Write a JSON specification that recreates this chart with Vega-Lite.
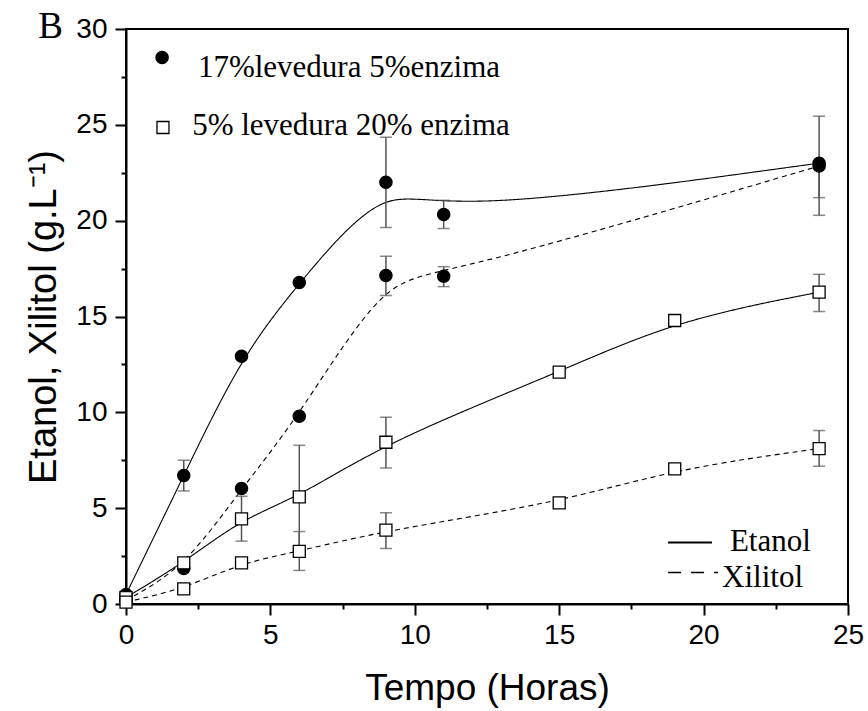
{
  "$schema": "https://vega.github.io/schema/vega-lite/v6.json",
  "width": 722,
  "height": 575,
  "autosize": "none",
  "padding": {"left": 126, "top": 29, "right": 20, "bottom": 107},
  "background": "white",
  "config": {
    "view": {"stroke": "black", "strokeWidth": 2},
    "axis": {"grid": false, "labelFlush": false, "domainColor": "black", "domainWidth": 2, "tickColor": "black", "tickWidth": 2, "labelColor": "black", "labelFont": "Liberation Sans", "titleFont": "Liberation Sans", "titleColor": "black", "titleFontWeight": "normal"}
  },
  "datasets": {
    "pts": [
      {"g": "circ", "s": "Etanol", "t": 0, "v": 0.5},
      {"g": "circ", "s": "Etanol", "t": 2, "v": 6.7, "lo": 5.9, "hi": 7.5},
      {"g": "circ", "s": "Etanol", "t": 4, "v": 12.93},
      {"g": "circ", "s": "Etanol", "t": 6, "v": 16.77},
      {"g": "circ", "s": "Etanol", "t": 9, "v": 22.0, "lo": 19.64, "hi": 24.35},
      {"g": "circ", "s": "Etanol", "t": 11, "v": 20.32, "lo": 19.59, "hi": 21.06},
      {"g": "circ", "s": "Etanol", "t": 24, "v": 23.0, "lo": 21.2, "hi": 23.0},
      {"g": "circ", "s": "Xilitol", "t": 0, "v": 0.2},
      {"g": "circ", "s": "Xilitol", "t": 2, "v": 1.85},
      {"g": "circ", "s": "Xilitol", "t": 4, "v": 6.03},
      {"g": "circ", "s": "Xilitol", "t": 6, "v": 9.8},
      {"g": "circ", "s": "Xilitol", "t": 9, "v": 17.14, "lo": 16.09, "hi": 18.14},
      {"g": "circ", "s": "Xilitol", "t": 11, "v": 17.1, "lo": 16.56, "hi": 17.6},
      {"g": "circ", "s": "Xilitol", "t": 24, "v": 22.85, "lo": 20.28, "hi": 25.45},
      {"g": "sq", "s": "Etanol", "t": 0, "v": 0.34},
      {"g": "sq", "s": "Etanol", "t": 2, "v": 2.15, "lo": 1.95, "hi": 2.35},
      {"g": "sq", "s": "Etanol", "t": 4, "v": 4.44, "lo": 3.28, "hi": 5.62},
      {"g": "sq", "s": "Etanol", "t": 6, "v": 5.59, "lo": 2.9, "hi": 8.28},
      {"g": "sq", "s": "Etanol", "t": 9, "v": 8.44, "lo": 7.1, "hi": 9.75},
      {"g": "sq", "s": "Etanol", "t": 15, "v": 12.1},
      {"g": "sq", "s": "Etanol", "t": 19, "v": 14.79},
      {"g": "sq", "s": "Etanol", "t": 24, "v": 16.27, "lo": 15.26, "hi": 17.2},
      {"g": "sq", "s": "Xilitol", "t": 0, "v": 0.1},
      {"g": "sq", "s": "Xilitol", "t": 2, "v": 0.79, "lo": 0.6, "hi": 0.95},
      {"g": "sq", "s": "Xilitol", "t": 4, "v": 2.15, "lo": 2.0, "hi": 2.3},
      {"g": "sq", "s": "Xilitol", "t": 6, "v": 2.75, "lo": 1.75, "hi": 3.78},
      {"g": "sq", "s": "Xilitol", "t": 9, "v": 3.85, "lo": 2.9, "hi": 4.76},
      {"g": "sq", "s": "Xilitol", "t": 15, "v": 5.28},
      {"g": "sq", "s": "Xilitol", "t": 19, "v": 7.05},
      {"g": "sq", "s": "Xilitol", "t": 24, "v": 8.11, "lo": 7.19, "hi": 9.05}
    ],
    "legsym": [
      {"x": 1.25, "y": 28.51, "g": "circ"},
      {"x": 1.28, "y": 24.86, "g": "sq"}
    ],
    "legtxt": [
      {"x": 2.49, "y": 27.48, "label": "17%levedura 5%enzima"},
      {"x": 2.29, "y": 24.49, "label": "5% levedura 20% enzima"},
      {"x": 20.91, "y": 2.74, "label": "Etanol"},
      {"x": 20.64, "y": 0.91, "label": "Xilitol"}
    ],
    "legline1": [
      {"x": 18.77, "y": 3.21},
      {"x": 20.29, "y": 3.21}
    ],
    "legline2": [
      {"x": 18.77, "y": 1.64},
      {"x": 20.5, "y": 1.64}
    ],
    "panel": [
      {"x": -2.61, "y": 29.55, "label": "B"}
    ]
  },
  "layer": [
    {
      "data": {"name": "pts"},
      "mark": {"type": "line", "interpolate": "basis", "strokeWidth": 1.1, "color": "black"},
      "encoding": {
        "x": {"field": "t", "type": "quantitative", "scale": {"domain": [0, 25], "nice": false},
              "axis": {"values": [0, 5, 10, 15, 20, 25], "tickSize": 11, "labelFontSize": 28, "labelPadding": 6, "title": "Tempo (Horas)", "titleFontSize": 37, "titlePadding": 21, "orient": "bottom"}},
        "y": {"field": "v", "type": "quantitative", "scale": {"domain": [0, 30], "nice": false},
              "axis": {"values": [0, 5, 10, 15, 20, 25, 30], "tickSize": 11, "labelFontSize": 28, "labelPadding": 8, "title": "Etanol, Xilitol (g.L⁻¹)", "titleFontSize": 38, "titlePadding": 12, "orient": "left"}},
        "detail": {"field": "g"},
        "strokeDash": {"field": "s", "type": "nominal", "scale": {"domain": ["Etanol", "Xilitol"], "range": [[1, 0], [5, 4]]}, "legend": null},
        "order": {"field": "t", "type": "quantitative"}
      }
    },
    {
      "data": {"name": "pts"},
      "mark": {"type": "rule", "color": "#555", "strokeWidth": 1.5},
      "encoding": {
        "x": {"field": "t", "type": "quantitative", "axis": {"values": [2.5, 7.5, 12.5, 17.5, 22.5], "labels": false, "tickSize": 5, "domain": false, "title": null, "orient": "bottom"}},
        "y": {"field": "lo", "type": "quantitative", "axis": {"values": [2.5, 7.5, 12.5, 17.5, 22.5, 27.5], "labels": false, "tickSize": 5, "domain": false, "title": null, "orient": "left"}},
        "y2": {"field": "hi"}
      }
    },
    {
      "data": {"name": "pts"},
      "mark": {"type": "tick", "orient": "horizontal", "color": "#555", "thickness": 1.5, "size": 12},
      "encoding": {
        "x": {"field": "t", "type": "quantitative", "axis": null},
        "y": {"field": "lo", "type": "quantitative", "axis": null}
      }
    },
    {
      "data": {"name": "pts"},
      "mark": {"type": "tick", "orient": "horizontal", "color": "#555", "thickness": 1.5, "size": 12},
      "encoding": {
        "x": {"field": "t", "type": "quantitative", "axis": null},
        "y": {"field": "hi", "type": "quantitative", "axis": null}
      }
    },
    {
      "data": {"name": "pts"},
      "mark": {"type": "point", "filled": false, "stroke": "black", "strokeWidth": 1.3, "opacity": 1},
      "encoding": {
        "x": {"field": "t", "type": "quantitative", "axis": null},
        "y": {"field": "v", "type": "quantitative", "axis": null},
        "shape": {"field": "g", "type": "nominal", "scale": {"domain": ["circ", "sq"], "range": ["circle", "square"]}, "legend": null},
        "fill": {"field": "g", "type": "nominal", "scale": {"domain": ["circ", "sq"], "range": ["black", "white"]}, "legend": null},
        "size": {"field": "g", "type": "nominal", "scale": {"domain": ["circ", "sq"], "range": [150, 144]}, "legend": null}
      }
    },
    {
      "data": {"name": "legsym"},
      "mark": {"type": "point", "filled": false, "stroke": "black", "strokeWidth": 1.3, "opacity": 1, "clip": false},
      "encoding": {
        "x": {"field": "x", "type": "quantitative", "axis": null},
        "y": {"field": "y", "type": "quantitative", "axis": null},
        "shape": {"field": "g", "type": "nominal", "scale": {"domain": ["circ", "sq"], "range": ["circle", "square"]}, "legend": null},
        "fill": {"field": "g", "type": "nominal", "scale": {"domain": ["circ", "sq"], "range": ["black", "white"]}, "legend": null},
        "size": {"field": "g", "type": "nominal", "scale": {"domain": ["circ", "sq"], "range": [150, 144]}, "legend": null}
      }
    },
    {
      "data": {"name": "legtxt"},
      "mark": {"type": "text", "align": "left", "baseline": "alphabetic", "font": "Liberation Serif", "fontSize": 31, "color": "black"},
      "encoding": {
        "x": {"field": "x", "type": "quantitative", "axis": null},
        "y": {"field": "y", "type": "quantitative", "axis": null},
        "text": {"field": "label"}
      }
    },
    {
      "data": {"name": "legline1"},
      "mark": {"type": "line", "color": "black", "strokeWidth": 2},
      "encoding": {
        "x": {"field": "x", "type": "quantitative", "axis": null},
        "y": {"field": "y", "type": "quantitative", "axis": null}
      }
    },
    {
      "data": {"name": "legline2"},
      "mark": {"type": "line", "color": "black", "strokeWidth": 1.5, "strokeDash": [13, 10]},
      "encoding": {
        "x": {"field": "x", "type": "quantitative", "axis": null},
        "y": {"field": "y", "type": "quantitative", "axis": null}
      }
    },
    {
      "data": {"name": "panel"},
      "mark": {"type": "text", "align": "center", "baseline": "alphabetic", "font": "Liberation Serif", "fontSize": 37, "color": "black", "clip": false},
      "encoding": {
        "x": {"field": "x", "type": "quantitative", "axis": null},
        "y": {"field": "y", "type": "quantitative", "axis": null},
        "text": {"field": "label"}
      }
    }
  ],
  "resolve": {"axis": {"x": "independent", "y": "independent"}}
}
